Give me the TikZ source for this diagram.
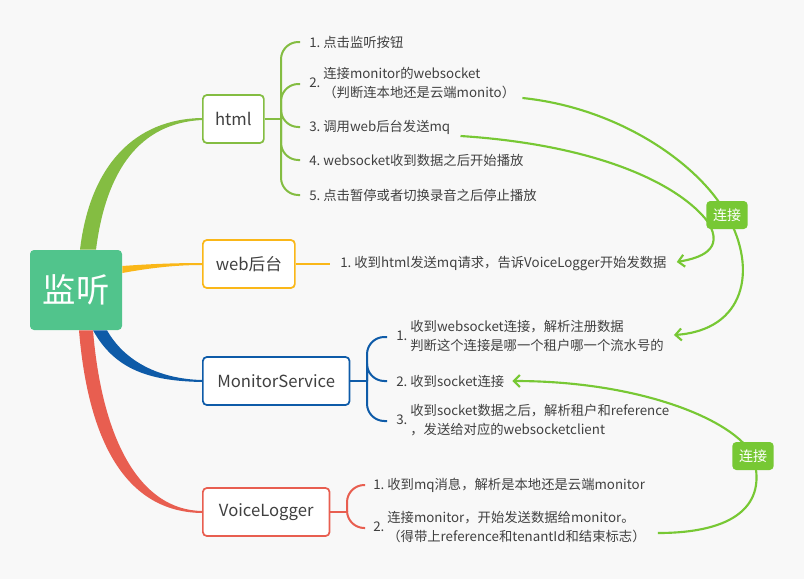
\documentclass[tikz,border=0pt]{standalone}
\usepackage{fontspec}
\setmainfont{Noto Sans CJK SC}
\usetikzlibrary{arrows.meta,calc}

\definecolor{bgc}{RGB}{248,248,248}
\definecolor{rootc}{RGB}{81,196,140}
\definecolor{htmlc}{RGB}{132,189,66}
\definecolor{webc}{RGB}{250,183,24}
\definecolor{msc}{RGB}{14,91,168}
\definecolor{vlc}{RGB}{232,94,80}
\definecolor{relc}{RGB}{119,200,52}
\definecolor{textc}{RGB}{64,64,64}

\begin{document}
\begin{tikzpicture}[x=0.75pt, y=-0.75pt,
    topic/.style={draw, line width=1.3pt, fill=white, rounded corners=3pt, minimum height=36pt, anchor=west, text=textc, font=\fontsize{12.5}{15}\selectfont},
    item/.style={anchor=west, inner sep=0pt, text=textc, font=\fontsize{10}{14}\selectfont},
    sub/.style={line width=1.5pt, rounded corners=13pt},
    rel/.style={draw=relc, line width=1.6pt, -{Straight Barb[length=4.5pt,width=9pt]}},
    rellabel/.style={fill=relc, text=white, rounded corners=3pt, minimum width=31pt, minimum height=21pt, font=\fontsize{10.5}{12}\selectfont}]

    % Background
    \fill[bgc] (0,0) rectangle (804,579);
    \useasboundingbox (0,0) rectangle (804,579);

    % Root and topics
    \node[fill=rootc, text=white, rounded corners=3pt, minimum width=69pt, minimum height=60pt, font=\fontsize{25}{30}\selectfont] (root) at (76,290) {监听};
    \node[topic, draw=htmlc, minimum width=45.75pt] (html) at (202,119) {html};
    \node[topic, draw=webc, minimum width=69pt] (web) at (202,264) {web后台};
    \node[topic, draw=msc, minimum width=110pt] (ms) at (202,381) {MonitorService};
    \node[topic, draw=vlc, minimum width=95pt] (vl) at (202,512) {VoiceLogger};

    % Branches from the root
    \fill[vlc] ($(root.south)+(3,0)$) .. controls (88,440) and (125,512) .. ($(vl.west)+(0,1)$) -- ($(vl.west)+(0,-1)$) .. controls (140,510) and (102,440) .. ($(root.south)+(17,0)$) -- cycle;
    \fill[msc] ($(root.south)+(17,0)$) .. controls (115,370) and (150,381) .. ($(ms.west)+(0,1)$) -- ($(ms.west)+(0,-1)$) .. controls (160,379) and (125,362) .. ($(root.south)+(31,0)$) -- cycle;
    \fill[webc] ($(root.east)+(0,-24)$) .. controls (150,264) and (175,263) .. ($(web.west)+(0,-1)$) -- ($(web.west)+(0,1)$) .. controls (175,265) and (150,268) .. ($(root.east)+(0,-17)$) -- cycle;
    \fill[htmlc] ($(root.north)+(4,0)$) .. controls (90,165) and (135,119) .. ($(html.west)+(0,-1)$) -- ($(html.west)+(0,1)$) .. controls (140,123) and (106,170) .. ($(root.north)+(20,0)$) -- cycle;

    % html items
    \node[item] (h1) at (309,42) {1.\ 点击监听按钮};
    \node[item] (h2) at (309,84) {2.\ \begin{tabular}[c]{@{}l@{}}连接monitor的websocket\\（判断连本地还是云端monito）\end{tabular}};
    \node[item] (h3) at (309,127) {3.\ 调用web后台发送mq};
    \node[item] (h4) at (309,160) {4.\ websocket收到数据之后开始播放};
    \node[item] (h5) at (309,195) {5.\ 点击暂停或者切换录音之后停止播放};
    \coordinate (hj) at (281,119);
    \draw[sub, htmlc] (html.east) -- (hj);
    \foreach \n in {h1,h2,h3,h4,h5}
        \draw[sub, htmlc] (hj) |- ($(\n.west)+(-9,0)$);

    % web items
    \node[item] (w1) at (340,264) {1.\ 收到html发送mq请求，告诉VoiceLogger开始发数据};
    \draw[sub, webc] (web.east) -- ($(w1.west)+(-10,0)$);

    % MonitorService items
    \node[item] (m1) at (396,337) {1.\ \begin{tabular}[c]{@{}l@{}}收到websocket连接，解析注册数据\\判断这个连接是哪一个租户哪一个流水号的\end{tabular}};
    \node[item] (m2) at (396,381) {2.\ 收到socket连接};
    \node[item] (m3) at (396,421) {3.\ \begin{tabular}[c]{@{}l@{}}收到socket数据之后，解析租户和reference\\，发送给对应的websocketclient\end{tabular}};
    \coordinate (mj) at (367,381);
    \draw[sub, msc] (ms.east) -- (mj);
    \foreach \n in {m1,m2,m3}
        \draw[sub, msc] (mj) |- ($(\n.west)+(-9,0)$);

    % VoiceLogger items
    \node[item] (v1) at (373,485) {1.\ 收到mq消息，解析是本地还是云端monitor};
    \node[item] (v2) at (373,528) {2.\ \begin{tabular}[c]{@{}l@{}}连接monitor，开始发送数据给monitor。\\（得带上reference和tenantId和结束标志）\end{tabular}};
    \coordinate (vj) at (347,512);
    \draw[sub, vlc] (vl.east) -- (vj);
    \foreach \n in {v1,v2}
        \draw[sub, vlc] (vj) |- ($(\n.west)+(-8,0)$);

    % Relationships
    \coordinate (lab1) at (727,215);
    \coordinate (lab2) at (753,456);
    \draw[rel] ($(h2.east)+(7,14)$) .. controls (620,108) and (700,165) .. (lab1) .. controls (758,270) and (745,330) .. ($(m1.east)+(10,-2)$);
    \draw[rel] ($(h3.east)+(10,9)$) .. controls (600,145) and (680,185) .. (708,222) .. controls (725,250) and (700,258) .. ($(w1.east)+(10,-2)$);
    \draw[rel] ($(v2.east)+(12,5)$) .. controls (735,533) and (768,505) .. (lab2) .. controls (735,420) and (640,381) .. ($(m2.east)+(8,0)$);
    \node[rellabel] (rel1) at (lab1) {连接};
    \node[rellabel] (rel2) at (lab2) {连接};
\end{tikzpicture}
\end{document}
